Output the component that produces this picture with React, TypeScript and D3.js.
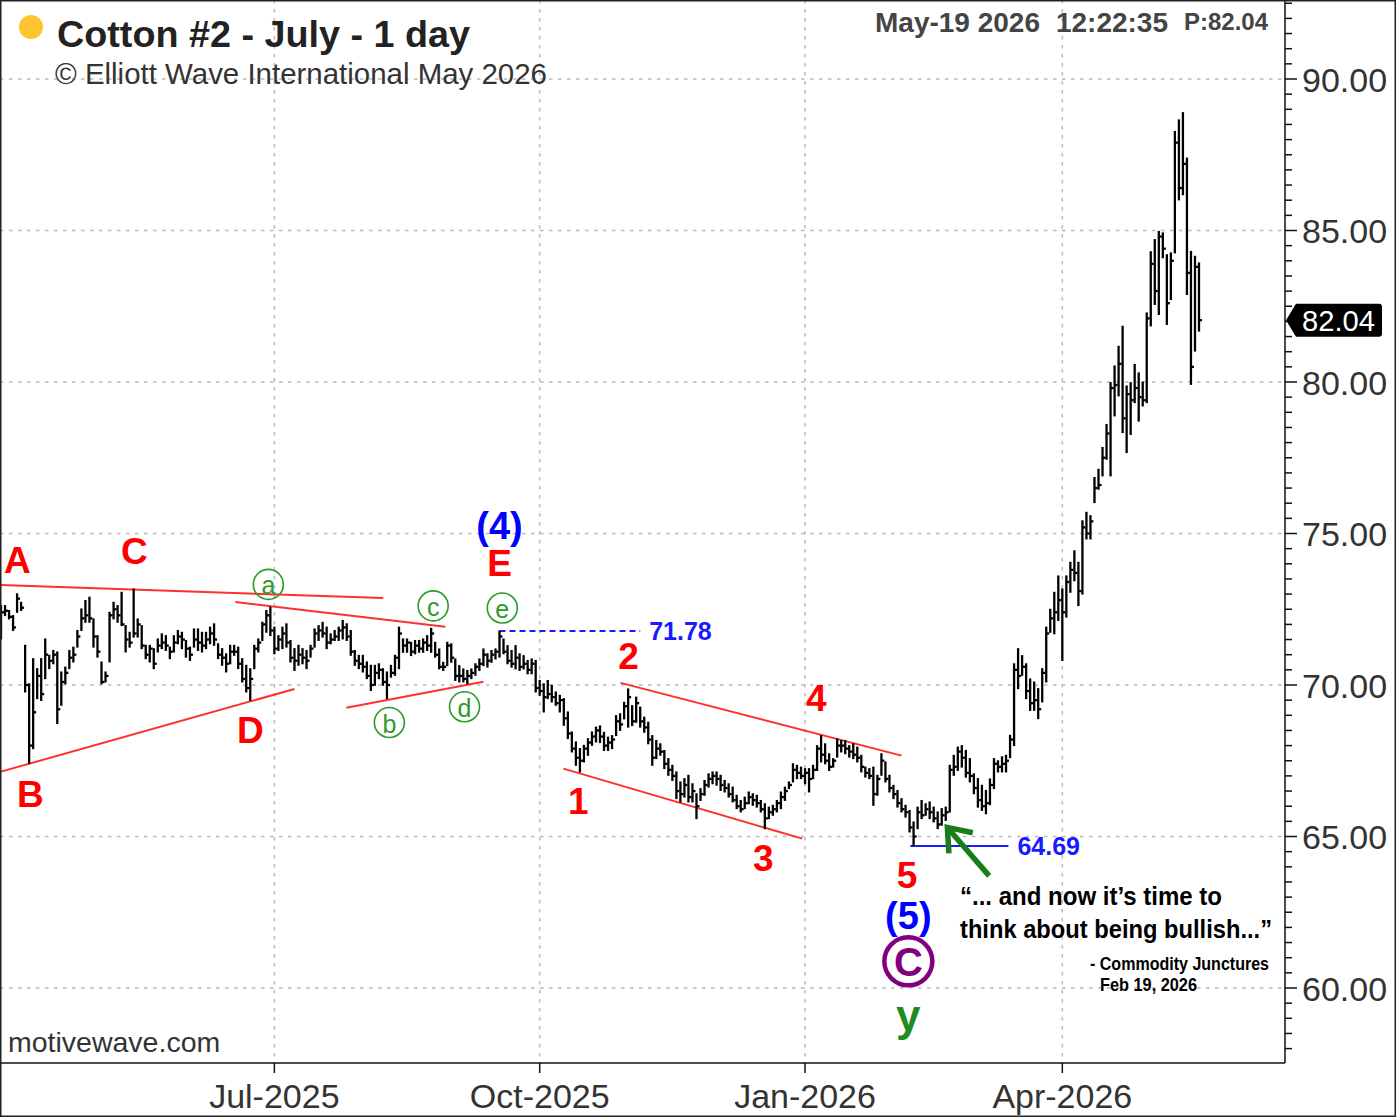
import * as d3 from "d3";

// Cotton #2 July, daily bars (high / low / close)
const highs = [
  72.62, 72.62, 72.46, 72.29, 73.01, 72.73, 71.31, 70.04, 70.87, 70.54,
  70.87, 71.52, 70.98, 71.14, 71.09, 70.43, 70.59, 71.14, 71.25, 71.8,
  72.51, 72.79, 72.9, 72.18, 71.63, 70.76, 70.43, 72.4, 72.73, 72.62,
  73.06, 71.96, 71.74, 73.17, 72.18, 71.96, 71.31, 71.31, 71.2, 71.52,
  71.69, 71.63, 71.25, 71.63, 71.8, 71.74, 71.47, 71.25, 71.85, 71.85,
  71.74, 71.74, 71.91, 72.02, 71.36, 71.2, 71.03, 71.31, 71.31, 71.25,
  70.87, 70.65, 70.54, 71.31, 71.52, 72.07, 72.46, 72.57, 71.91, 71.63,
  71.91, 72.02, 71.47, 71.2, 71.31, 71.2, 71.14, 71.31, 71.85, 71.96,
  72.07, 71.91, 71.69, 71.8, 71.91, 72.13, 72.02, 71.8, 71.14, 70.98,
  70.98, 70.76, 70.65, 70.65, 70.7, 70.54, 70.43, 70.65, 70.98, 71.91,
  71.52, 71.52, 71.41, 71.47, 71.47, 71.52, 71.63, 71.87, 71.41, 71.19,
  70.75, 71.41, 71.36, 70.86, 70.64, 70.53, 70.48, 70.53, 70.7, 70.86,
  71.19, 71.03, 71.14, 71.19, 71.78, 71.52, 71.3, 71.14, 71.3, 71.03,
  70.97, 70.81, 70.86, 70.81, 70.15, 70.04, 70.15, 69.99, 69.77, 69.66,
  69.55, 69.11, 68.45, 68.12, 67.9, 68.01, 68.23, 68.45, 68.61, 68.65,
  68.44, 68.28, 68.33, 68.99, 69.05, 69.43, 69.87, 69.32, 69.6, 69.27,
  68.94, 68.77, 68.33, 68.17, 68.06, 67.84, 67.57, 67.35, 67.13, 66.8,
  66.91, 67.02, 66.74, 66.41, 66.58, 66.85, 67.07, 67.13, 67.13, 67.02,
  66.85, 66.74, 66.63, 66.36, 66.19, 66.3, 66.47, 66.41, 66.36, 66.19,
  66.08, 65.97, 66.03, 66.19, 66.47, 66.63, 66.8, 67.4, 67.35, 67.29,
  67.24, 67.24, 67.35, 68.0, 68.33, 68.06, 67.73, 67.57, 68.22, 68.17,
  68.17, 68.0, 68.06, 67.95, 67.68, 67.29, 67.24, 67.29, 67.02, 67.73,
  67.46, 67.02, 66.69, 66.52, 66.25, 66.03, 65.86, 65.48, 65.97, 66.19,
  66.08, 66.14, 65.97, 65.81, 65.92, 65.97, 67.35, 67.68, 67.95, 68.0,
  67.84, 67.57, 67.07, 66.91, 66.69, 66.52, 66.9, 67.57, 67.5, 67.63,
  67.68, 68.34, 70.7, 71.2, 70.97, 70.7, 70.2, 70.1, 69.88, 70.54,
  71.91, 72.5, 73.06, 73.6, 73.17, 73.6, 74.05, 74.43, 74.05, 75.42,
  75.7, 75.59, 76.85, 77.12, 77.84, 78.6, 79.98, 80.53, 81.18, 81.84,
  79.87, 79.98, 80.58, 80.3, 80.0, 82.28, 84.3, 84.7, 84.97, 84.92,
  84.2, 84.26, 88.27, 88.65, 88.89, 87.39, 84.31, 84.15, 83.93,
];

const lows = [
  71.52, 72.29, 72.18, 71.8, 72.4, 72.46, 69.77, 67.41, 67.9, 69.55,
  69.49, 70.21, 70.54, 70.7, 68.73, 69.33, 70.04, 70.54, 70.76, 71.25,
  71.8, 72.07, 72.07, 71.25, 70.92, 70.04, 70.1, 70.76, 72.18, 72.07,
  71.96, 71.09, 71.25, 71.58, 71.58, 71.2, 70.87, 70.76, 70.54, 71.09,
  71.2, 71.14, 70.87, 71.09, 71.36, 71.2, 70.92, 70.81, 71.25, 71.14,
  71.09, 71.2, 71.36, 71.31, 70.87, 70.65, 70.43, 70.7, 70.98, 70.54,
  70.1, 69.77, 69.49, 70.54, 71.09, 71.47, 71.74, 71.63, 71.03, 71.14,
  71.2, 71.25, 70.76, 70.48, 70.65, 70.7, 70.54, 70.92, 71.25, 71.47,
  71.58, 71.2, 71.36, 71.47, 71.47, 71.52, 71.47, 70.98, 70.65, 70.54,
  70.43, 70.21, 69.82, 69.99, 70.21, 69.99, 69.55, 70.26, 70.32, 70.54,
  71.08, 71.08, 70.97, 71.03, 71.08, 71.08, 71.14, 71.08, 70.92, 70.53,
  70.48, 70.64, 70.75, 70.15, 70.1, 70.1, 70.04, 70.21, 70.32, 70.48,
  70.64, 70.59, 70.75, 70.86, 70.92, 71.03, 70.7, 70.59, 70.53, 70.48,
  70.53, 70.37, 70.37, 69.77, 69.66, 69.11, 69.55, 69.44, 69.33, 69.11,
  68.67, 68.23, 67.79, 67.35, 67.13, 67.46, 67.68, 68.01, 68.12, 68.1,
  67.84, 67.84, 67.9, 68.33, 68.5, 68.88, 68.61, 68.66, 68.77, 68.61,
  68.44, 68.06, 67.35, 67.57, 67.68, 67.24, 67.02, 66.85, 66.25, 66.14,
  66.3, 66.14, 66.14, 65.59, 66.19, 66.36, 66.63, 66.74, 66.69, 66.52,
  66.47, 66.3, 66.14, 65.92, 65.81, 65.92, 66.08, 66.03, 65.97, 65.81,
  65.26, 65.59, 65.7, 65.81, 65.92, 66.19, 66.58, 66.8, 66.91, 66.91,
  66.74, 66.47, 66.91, 67.18, 67.46, 67.4, 67.18, 67.29, 67.62, 67.79,
  67.73, 67.62, 67.57, 67.46, 67.13, 66.96, 66.91, 66.03, 66.36, 67.02,
  66.8, 66.47, 66.25, 65.97, 65.81, 65.64, 65.15, 64.69, 65.26, 65.59,
  65.7, 65.59, 65.48, 65.26, 65.37, 65.53, 65.81, 67.02, 67.18, 67.29,
  66.96, 66.8, 66.41, 65.97, 65.86, 65.75, 66.05, 66.58, 67.13, 67.13,
  67.13, 67.6, 68.0, 69.88, 70.32, 69.55, 69.16, 69.16, 68.89, 69.44,
  70.1, 71.74, 71.69, 72.13, 70.81, 72.24, 73.06, 73.44, 72.62, 73.0,
  74.82, 74.82, 76.02, 76.46, 76.9, 77.45, 76.9, 78.88, 79.54, 78.33,
  77.67, 78.27, 79.32, 78.71, 79.21, 79.32, 81.85, 82.56, 82.23, 84.1,
  81.9, 82.72, 84.26, 86.01, 86.18, 82.89, 79.92, 81.02, 81.68,
];

const closes = [
  72.4, 72.45, 72.25, 71.9, 72.85, 72.55, 70.0, 68.0, 69.1, 70.3,
  69.7, 71.0, 70.8, 71.0, 69.2, 70.1, 70.4, 70.9, 71.0, 71.6,
  72.2, 72.3, 72.2, 71.6, 71.1, 70.1, 70.3, 72.3, 72.5, 72.3,
  72.0, 71.5, 71.4, 71.7, 72.0, 71.3, 71.0, 71.2, 70.7, 71.3,
  71.4, 71.3, 71.1, 71.4, 71.6, 71.5, 71.2, 71.0, 71.5, 71.4,
  71.3, 71.5, 71.7, 71.5, 71.0, 70.9, 70.7, 71.1, 71.1, 70.7,
  70.2, 69.9, 70.2, 71.2, 71.4, 72.0, 72.3, 71.8, 71.2, 71.5,
  71.7, 71.4, 70.9, 70.8, 71.0, 70.9, 70.8, 71.2, 71.7, 71.8,
  71.7, 71.4, 71.5, 71.6, 71.8, 71.9, 71.6, 71.1, 70.8, 70.7,
  70.6, 70.3, 70.0, 70.4, 70.5, 70.1, 70.0, 70.4, 70.9, 71.7,
  71.3, 71.4, 71.1, 71.3, 71.2, 71.4, 71.3, 71.7, 71.0, 70.6,
  70.6, 71.3, 70.9, 70.3, 70.3, 70.2, 70.3, 70.4, 70.6, 70.7,
  71.0, 70.8, 71.0, 71.1, 71.6, 71.1, 70.8, 70.7, 70.9, 70.6,
  70.7, 70.5, 70.7, 69.9, 69.8, 69.6, 69.7, 69.6, 69.4, 69.5,
  68.9, 68.4, 67.9, 67.6, 67.5, 67.9, 68.1, 68.3, 68.5, 68.3,
  68.0, 68.1, 68.2, 68.8, 68.7, 69.3, 69.6, 68.8, 69.4, 68.8,
  68.6, 68.2, 67.6, 67.9, 67.8, 67.4, 67.2, 67.0, 66.5, 66.4,
  66.7, 66.3, 66.5, 66.0, 66.4, 66.7, 66.9, 67.0, 66.9, 66.7,
  66.6, 66.4, 66.2, 66.0, 65.9, 66.1, 66.3, 66.2, 66.1, 65.9,
  65.6, 65.8, 65.9, 66.1, 66.3, 66.5, 66.7, 67.2, 67.1, 67.0,
  67.1, 66.9, 67.2, 67.9, 67.7, 67.5, 67.3, 67.5, 68.0, 68.0,
  67.9, 67.8, 67.7, 67.6, 67.3, 67.1, 67.0, 66.4, 66.9, 67.5,
  66.9, 66.6, 66.4, 66.1, 65.9, 65.8, 65.3, 65.0, 65.8, 65.7,
  65.9, 65.8, 65.6, 65.4, 65.7, 65.8, 67.2, 67.3, 67.8, 67.6,
  67.1, 67.0, 66.6, 66.2, 66.0, 66.1, 66.7, 67.4, 67.3, 67.4,
  67.5, 68.2, 70.5, 70.3, 70.6, 69.8, 69.4, 69.5, 69.2, 70.4,
  71.7, 72.2, 72.4, 72.8, 72.4, 73.4, 73.8, 73.7, 73.1, 75.2,
  75.0, 75.4, 76.5, 76.6, 77.5, 78.3, 79.8, 79.9, 80.6, 78.8,
  79.6, 79.4, 79.8, 79.5, 79.4, 82.1, 83.9, 83.0, 84.8, 84.4,
  82.6, 84.0, 87.9, 86.4, 87.2, 83.6, 80.5, 83.8, 82.04,
];

const firstSession = new Date(2025, 2, 27);
const monthTicks = ["2025-07", "2025-10", "2026-01", "2026-04"];
const priceTicks = [60, 65, 70, 75, 80, 85, 90];
const lastPrice = 82.04;

// Elliott wave annotations, placed in (bar index, price) units
const redLabels = [
  { text: "A", i: 4.1, p: 74.1 },
  { text: "B", i: 7.3, p: 66.4 },
  { text: "C", i: 33.2, p: 74.4 },
  { text: "D", i: 62.0, p: 68.5 },
  { text: "E", i: 124.0, p: 74.0 },
  { text: "1", i: 143.6, p: 66.15 },
  { text: "2", i: 156.1, p: 70.93 },
  { text: "3", i: 189.6, p: 64.28 },
  { text: "4", i: 202.8, p: 69.55 },
  { text: "5", i: 225.4, p: 63.72 },
];
const blueLabels = [
  { text: "(4)", i: 124.0, p: 75.24 },
  { text: "(5)", i: 225.7, p: 62.37 },
];
const circledLabels = [
  { text: "a", i: 66.5, p: 73.32 },
  { text: "b", i: 96.6, p: 68.76 },
  { text: "c", i: 107.5, p: 72.61 },
  { text: "d", i: 115.3, p: 69.28 },
  { text: "e", i: 124.7, p: 72.54 },
];
const trendLines: [number, number, number, number][] = [
  [0, 73.3, 95.1, 72.87],
  [0, 67.14, 73.0, 69.87],
  [58.3, 72.74, 110.5, 71.92],
  [85.9, 69.25, 120.0, 70.11],
  [139.9, 67.24, 199.3, 64.93],
  [154.1, 70.07, 224.0, 67.67],
];
const levels = [
  { price: 71.78, from: 124, to: 159, dashed: true },
  { price: 64.69, from: 226.2, to: 250.6, dashed: false },
];

function sessions(start: Date, n: number): Date[] {
  const out: Date[] = [];
  const d = new Date(start);
  while (out.length < n) {
    const wd = d.getDay();
    if (wd !== 0 && wd !== 6) out.push(new Date(d));
    d.setDate(d.getDate() + 1);
  }
  return out;
}

export default function App() {
  const width = 1396;
  const height = 1117;
  const plotRight = 1285;
  const plotBottom = 1063;

  const dates = sessions(firstSession, closes.length);
  const x = d3.scaleLinear().domain([0, closes.length - 1]).range([1, 1199]);
  const y = d3.scaleLinear().domain([60, 90]).range([988, 79]);

  const monthKey = d3.timeFormat("%Y-%m");
  const monthLabel = d3.timeFormat("%b-%Y");
  const months = monthTicks.map((m) => {
    const i = dates.findIndex((d) => monthKey(d) === m);
    return { i, label: monthLabel(dates[i]) };
  });
  const minorTicks = d3.range(58, 92.6, 0.5);
  const line = d3
    .line<[number, number]>()
    .x((d) => x(d[0]))
    .y((d) => y(d[1]));

  // green arrow pointing at the low
  const tip = { x: x(235.4), y: y(65.3) };
  const tail = { x: x(245.8), y: y(63.7) };
  const len = Math.hypot(tail.x - tip.x, tail.y - tip.y);
  const ux = (tail.x - tip.x) / len;
  const uy = (tail.y - tip.y) / len;
  const arm = (a: number) => ({
    x: tip.x + 26 * (ux * Math.cos(a) - uy * Math.sin(a)),
    y: tip.y + 26 * (ux * Math.sin(a) + uy * Math.cos(a)),
  });
  const armA = arm(0.65);
  const armB = arm(-0.65);

  const axisFont = "'Liberation Sans', Arial, sans-serif";
  const yLast = y(lastPrice);

  return (
    <div>
      <style>{"body{margin:0}"}</style>
      <svg width={width} height={height} style={{ display: "block" }}>
        <rect x={0} y={0} width={width} height={height} fill="#ffffff" />

        {/* grid */}
        {priceTicks.map((p) => (
          <line
            key={`g${p}`}
            x1={0}
            x2={plotRight}
            y1={y(p)}
            y2={y(p)}
            stroke="#b9b9b9"
            strokeWidth={1.5}
            strokeDasharray="3.5,5.5"
          />
        ))}
        {months.map((m) => (
          <line
            key={`v${m.label}`}
            x1={x(m.i)}
            x2={x(m.i)}
            y1={0}
            y2={plotBottom}
            stroke="#b9b9b9"
            strokeWidth={1.5}
            strokeDasharray="3.5,5.5"
          />
        ))}

        {/* trend lines */}
        {trendLines.map((t, k) => (
          <path
            key={`t${k}`}
            d={line([
              [t[0], t[1]],
              [t[2], t[3]],
            ]) ?? ""}
            stroke="#ff3030"
            strokeWidth={2}
            fill="none"
          />
        ))}

        {/* price levels */}
        {levels.map((l) => (
          <line
            key={`l${l.price}`}
            x1={x(l.from)}
            x2={x(l.to)}
            y1={y(l.price)}
            y2={y(l.price)}
            stroke="#1a1aff"
            strokeWidth={2}
            strokeDasharray={l.dashed ? "6,4" : undefined}
          />
        ))}
        {levels.map((l) => (
          <text
            key={`lt${l.price}`}
            x={x(l.to) + 9}
            y={y(l.price) + 9}
            fill="#1a1aff"
            fontFamily={axisFont}
            fontWeight="bold"
            fontSize={25}
          >
            {l.price.toFixed(2)}
          </text>
        ))}

        {/* bars */}
        <g stroke="#000000" strokeWidth={2.3}>
          {closes.map((c, i) => (
            <g key={i}>
              <line x1={x(i)} x2={x(i)} y1={y(highs[i]) - 0.5} y2={y(lows[i]) + 0.5} />
              <line x1={x(i)} x2={x(i) + 3} y1={y(c)} y2={y(c)} />
            </g>
          ))}
        </g>

        {/* wave labels */}
        {redLabels.map((l) => (
          <text
            key={`r${l.text}`}
            x={x(l.i)}
            y={y(l.p)}
            textAnchor="middle"
            dominantBaseline="central"
            fill="#ff0000"
            fontFamily={axisFont}
            fontWeight="bold"
            fontSize={37}
          >
            {l.text}
          </text>
        ))}
        {blueLabels.map((l) => (
          <text
            key={`b${l.text}`}
            x={x(l.i)}
            y={y(l.p)}
            textAnchor="middle"
            dominantBaseline="central"
            fill="#0000ff"
            fontFamily={axisFont}
            fontWeight="bold"
            fontSize={38}
          >
            {l.text}
          </text>
        ))}
        {circledLabels.map((l) => (
          <g key={`c${l.text}`}>
            <circle
              cx={x(l.i)}
              cy={y(l.p)}
              r={15}
              fill="none"
              stroke="#2a9a2a"
              strokeWidth={1.6}
            />
            <text
              x={x(l.i)}
              y={y(l.p) + 1}
              textAnchor="middle"
              dominantBaseline="central"
              fill="#2a9a2a"
              fontFamily={axisFont}
              fontSize={25}
            >
              {l.text}
            </text>
          </g>
        ))}
        <circle
          cx={x(225.7)}
          cy={y(60.88)}
          r={24}
          fill="none"
          stroke="#800080"
          strokeWidth={4.5}
        />
        <text
          x={x(225.7)}
          y={y(60.88) + 1}
          textAnchor="middle"
          dominantBaseline="central"
          fill="#800080"
          fontFamily={axisFont}
          fontWeight="bold"
          fontSize={40}
        >
          C
        </text>
        <text
          x={x(225.7)}
          y={y(59.1)}
          textAnchor="middle"
          dominantBaseline="central"
          fill="#1e8c1e"
          fontFamily={axisFont}
          fontWeight="bold"
          fontSize={44}
        >
          y
        </text>

        {/* arrow */}
        <g stroke="#1a7d1a" strokeWidth={5.5} fill="none" strokeLinecap="butt" strokeLinejoin="miter">
          <line x1={tail.x} y1={tail.y} x2={tip.x + ux * 2} y2={tip.y + uy * 2} />
          <polyline points={`${armA.x},${armA.y} ${tip.x},${tip.y} ${armB.x},${armB.y}`} />
        </g>

        {/* quote */}
        <g fontFamily={axisFont} fontWeight="bold" fill="#000000">
          <text x={960} y={905} fontSize={26} textLength={262} lengthAdjust="spacingAndGlyphs">
            “... and now it’s time to
          </text>
          <text x={960} y={938} fontSize={26} textLength={312} lengthAdjust="spacingAndGlyphs">
            think about being bullish...”
          </text>
          <text x={1090} y={970} fontSize={18} textLength={179} lengthAdjust="spacingAndGlyphs">
            - Commodity Junctures
          </text>
          <text x={1100} y={991} fontSize={18} textLength={97} lengthAdjust="spacingAndGlyphs">
            Feb 19, 2026
          </text>
        </g>

        {/* axes */}
        <line x1={plotRight} x2={plotRight} y1={0} y2={plotBottom} stroke="#111" strokeWidth={1.5} />
        <line x1={0} x2={plotRight} y1={plotBottom} y2={plotBottom} stroke="#111" strokeWidth={1.5} />
        {minorTicks.map((p) => (
          <line
            key={`m${p}`}
            x1={plotRight}
            x2={plotRight + (p % 5 === 0 ? 12 : 7)}
            y1={y(p)}
            y2={y(p)}
            stroke="#111"
            strokeWidth={1.5}
          />
        ))}
        {priceTicks.map((p) => (
          <text
            key={`yl${p}`}
            x={1302}
            y={y(p) + 12.5}
            fill="#333"
            fontFamily={axisFont}
            fontSize={34}
          >
            {p.toFixed(2)}
          </text>
        ))}
        {months.map((m) => (
          <g key={`xt${m.label}`}>
            <line x1={x(m.i)} x2={x(m.i)} y1={plotBottom} y2={plotBottom + 10} stroke="#111" strokeWidth={1.5} />
            <text
              x={x(m.i)}
              y={1108}
              textAnchor="middle"
              fill="#333"
              fontFamily={axisFont}
              fontSize={34}
            >
              {m.label}
            </text>
          </g>
        ))}

        {/* last price tag */}
        <path
          d={`M${plotRight + 1},${yLast} L${plotRight + 11},${yLast - 16.5} H1379 Q1382,${yLast - 16.5} 1382,${yLast - 13.5} V${yLast + 13.5} Q1382,${yLast + 16.5} 1379,${yLast + 16.5} H${plotRight + 11} Z`}
          fill="#000000"
        />
        <text x={1302} y={yLast + 11} fill="#ffffff" fontFamily={axisFont} fontSize={30} textLength={73} lengthAdjust="spacingAndGlyphs">
          {lastPrice.toFixed(2)}
        </text>

        {/* header */}
        <circle cx={31} cy={27} r={12} fill="#ffc52e" />
        <text x={57} y={47} fill="#222" fontFamily={axisFont} fontWeight="bold" fontSize={36} textLength={413} lengthAdjust="spacingAndGlyphs">
          Cotton #2 - July - 1 day
        </text>
        <text x={55} y={84} fill="#333" fontFamily={axisFont} fontSize={29} textLength={492} lengthAdjust="spacingAndGlyphs">
          © Elliott Wave International May 2026
        </text>
        <g fill="#444" fontFamily={axisFont} fontWeight="bold" textAnchor="end">
          <text x={1040} y={32} fontSize={28}>May-19 2026</text>
          <text x={1168} y={32} fontSize={28}>12:22:35</text>
          <text x={1268} y={30} fontSize={24}>P:82.04</text>
        </g>
        <text x={8} y={1052} fill="#333" fontFamily={axisFont} fontSize={28.5}>
          motivewave.com
        </text>

        {/* frame */}
        <rect x={0.75} y={0.75} width={width - 1.5} height={height - 1.5} fill="none" stroke="#222" strokeWidth={1.5} />
      </svg>
    </div>
  );
}
